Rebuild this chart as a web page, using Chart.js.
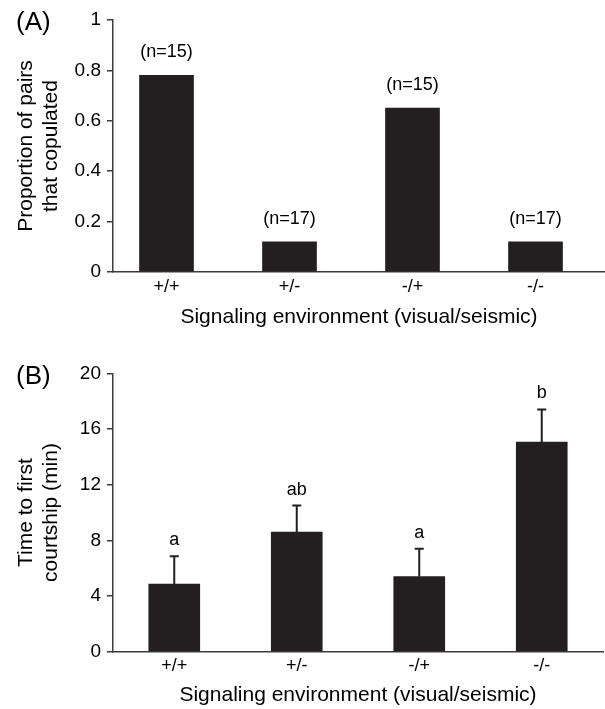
<!DOCTYPE html>
<html lang="en">
<head>
<meta charset="utf-8">
<script src="https://cdn.jsdelivr.net/npm/chart.js@4.4.1/dist/chart.umd.min.js"></script>
<style>
  body { margin: 0; background: #fff; }
  .panel { position: absolute; left: 0; }
</style>
</head>
<body>
<div class="panel" style="top:0"><canvas id="chartA" width="605" height="340"></canvas></div>
<div class="panel" style="top:340px"><canvas id="chartB" width="605" height="369"></canvas></div>

<script>
  // data
  const categories = ['+/+', '+/-', '-/+', '-/-'];
  const propCopulated = [0.78, 0.12, 0.65, 0.12];
  const sampleSizes = ['(n=15)', '(n=17)', '(n=15)', '(n=17)'];
  const courtshipTime = [4.85, 8.6, 5.4, 15.05];
  const courtshipErr = [2.0, 1.9, 2.0, 2.35];
  const groupLetters = ['a', 'ab', 'a', 'b'];
  const yTicksA = [0, 0.2, 0.4, 0.6, 0.8, 1];
  const yTicksB = [0, 4, 8, 12, 16, 20];
  const xTitle = 'Signaling environment (visual/seismic)';

  const FONT = "'Liberation Sans', Arial, Helvetica, sans-serif";
  const INK = '#231f20';
  const AXIS = '#3c3c3c';

  function panelLabel(text, y) {
    return {
      id: 'panel' + text,
      afterDraw(chart) {
        const ctx = chart.ctx;
        ctx.save();
        ctx.fillStyle = '#000';
        ctx.font = '26px ' + FONT;
        ctx.textAlign = 'left';
        ctx.textBaseline = 'middle';
        ctx.fillText(text, 16, y);
        ctx.restore();
      }
    };
  }

  function barChart(id, o) {
    return new Chart(document.getElementById(id), {
      type: 'bar',
      data: {
        datasets: [{
          data: o.values.map((v, i) => ({ x: i + 1, y: v })),
          backgroundColor: INK,
          barThickness: o.barWidth
        }]
      },
      options: {
        responsive: false,
        animation: false,
        events: [],
        layout: { padding: o.padding },
        plugins: { legend: { display: false }, tooltip: { enabled: false } },
        scales: {
          x: {
            type: 'linear',
            offset: false,
            min: o.xMin,
            max: o.xMax,
            afterBuildTicks: s => { s.ticks = categories.map((c, i) => ({ value: i + 1 })); },
            afterFit: s => { s.height = o.xHeight; },
            grid: { display: false, drawTicks: false },
            border: { color: AXIS, width: 1.5 },
            ticks: {
              color: '#000', font: { family: FONT, size: 18 }, padding: 4,
              maxRotation: 0, autoSkip: false,
              callback: v => categories[v - 1]
            },
            title: {
              display: true, text: xTitle, color: '#000',
              font: { family: FONT, size: 21 },
              padding: { top: 0, bottom: o.xTitlePad }
            }
          },
          y: {
            min: o.yTicks[0],
            max: o.yTicks[o.yTicks.length - 1],
            afterBuildTicks: s => { s.ticks = o.yTicks.map(v => ({ value: v })); },
            afterFit: s => { s.width = 113; },
            grid: { drawOnChartArea: false, drawTicks: true, tickLength: 6, color: AXIS, lineWidth: 1.5 },
            border: { color: AXIS, width: 1.5 },
            ticks: { color: '#000', font: { family: FONT, size: 19 }, padding: 6, callback: v => String(v) },
            title: {
              display: true, text: o.yTitle, color: '#000',
              font: { family: FONT, size: 21, lineHeight: 1.2 },
              padding: { top: 13.5, bottom: 0 }
            }
          }
        }
      },
      plugins: o.plugins
    });
  }

  // (A) n labels above bars
  const nLabels = {
    id: 'nLabels',
    afterDatasetsDraw(chart) {
      const { ctx, scales: { x, y } } = chart;
      ctx.save();
      ctx.fillStyle = '#000';
      ctx.font = '18px ' + FONT;
      ctx.textAlign = 'center';
      ctx.textBaseline = 'middle';
      sampleSizes.forEach((t, i) => {
        ctx.fillText(t, x.getPixelForValue(i + 1), y.getPixelForValue(propCopulated[i]) - 23);
      });
      ctx.restore();
    }
  };

  // (B) error bars + letters
  const errorBars = {
    id: 'errorBars',
    afterDatasetsDraw(chart) {
      const { ctx, scales: { x, y } } = chart;
      ctx.save();
      ctx.strokeStyle = INK;
      ctx.lineWidth = 2;
      ctx.fillStyle = '#000';
      ctx.font = '18px ' + FONT;
      ctx.textAlign = 'center';
      ctx.textBaseline = 'alphabetic';
      courtshipTime.forEach((v, i) => {
        const px = x.getPixelForValue(i + 1);
        const y0 = y.getPixelForValue(v);
        const y1 = y.getPixelForValue(v + courtshipErr[i]);
        ctx.beginPath();
        ctx.moveTo(px, y0);
        ctx.lineTo(px, y1);
        ctx.moveTo(px - 4.5, y1);
        ctx.lineTo(px + 4.5, y1);
        ctx.stroke();
        ctx.fillText(groupLetters[i], px, y1 - 11);
      });
      ctx.restore();
    }
  };

  barChart('chartA', {
    values: propCopulated,
    yTicks: yTicksA,
    yTitle: ['Proportion of pairs', 'that copulated'],
    barWidth: 54,
    xMin: 0.565, xMax: 4.565,
    padding: { top: 20, left: 0, right: 0, bottom: 0 },
    xHeight: 68,
    xTitlePad: 10,
    plugins: [nLabels, panelLabel('(A)', 23)]
  });

  barChart('chartB', {
    values: courtshipTime,
    yTicks: yTicksB,
    yTitle: ['Time to first', 'courtship (min)'],
    barWidth: 51,
    xMin: 0.5, xMax: 4.5,
    padding: { top: 33.3, left: 0, right: 2, bottom: 0 },
    xHeight: 57.3,
    xTitlePad: 1.4,
    plugins: [errorBars, panelLabel('(B)', 37)]
  });
</script>
</body>
</html>
